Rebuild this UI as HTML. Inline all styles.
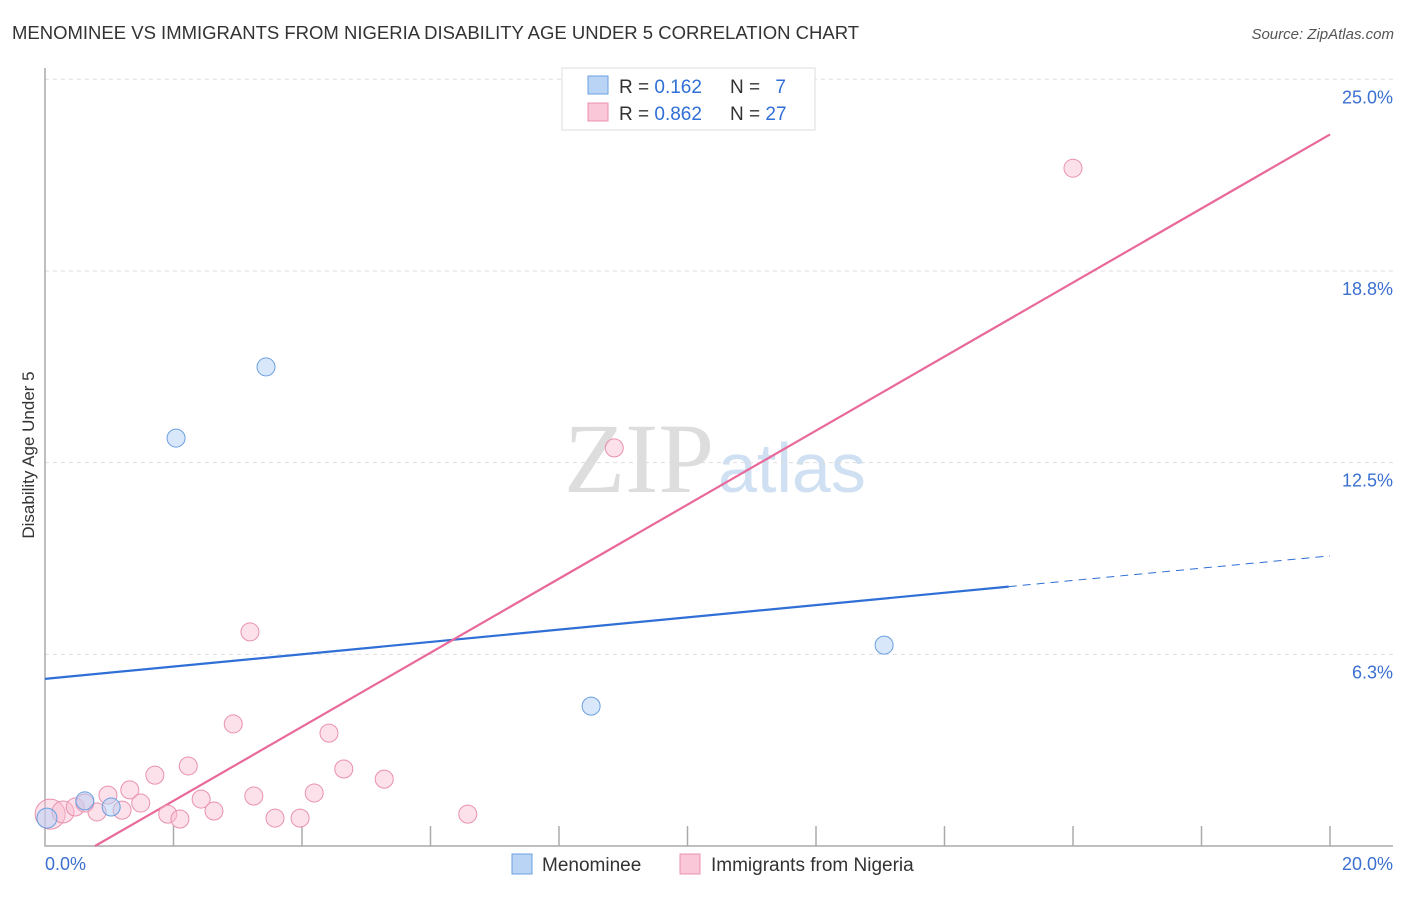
<!DOCTYPE html>
<html><head><meta charset="utf-8"><style>
body{margin:0;background:#fff;font-family:"Liberation Sans",sans-serif;}
</style></head><body>
<svg id="c" width="1406" height="892" font-family="Liberation Sans, sans-serif">
<text x="12" y="39" font-size="18.5" fill="#333">MENOMINEE VS IMMIGRANTS FROM NIGERIA DISABILITY AGE UNDER 5 CORRELATION CHART</text>
<text x="1394" y="39" font-size="15" fill="#555" font-style="italic" text-anchor="end">Source: ZipAtlas.com</text>
<text transform="translate(34,455) rotate(-90)" font-size="17" fill="#333" text-anchor="middle">Disability Age Under 5</text>
<text x="714" y="492" font-size="100" fill="#ddd" style="font-family:'Liberation Serif',serif" text-anchor="end">ZIP</text>
<text x="718" y="492" font-size="70" fill="#cfe0f3" style="font-family:'Liberation Sans',sans-serif">atlas</text>
<g id="grid"></g><g id="axes"></g><g id="lines"></g><g id="pts"></g>
<g>
<rect x="562" y="68" width="253" height="62" fill="#fff" stroke="#ddd"/>
<rect x="588" y="76" width="20" height="18" fill="#b9d4f5" stroke="#6a9fe0"/>
<text x="619" y="93" font-size="19" fill="#333">R = <tspan fill="#2f6fd6">0.162</tspan></text>
<text x="730" y="93" font-size="19" fill="#333">N = <tspan fill="#2f6fd6" dx="10">7</tspan></text>
<rect x="588" y="103" width="20" height="18" fill="#f9c7d7" stroke="#e991ae"/>
<text x="619" y="120" font-size="19" fill="#333">R = <tspan fill="#2f6fd6">0.862</tspan></text>
<text x="730" y="120" font-size="19" fill="#333">N = <tspan fill="#2f6fd6">27</tspan></text>
</g>
<g>
<rect x="512" y="854" width="20" height="20" fill="#b9d4f5" stroke="#6a9fe0"/>
<text x="542" y="871" font-size="19" fill="#333">Menominee</text>
<rect x="680" y="854" width="20" height="20" fill="#f9c7d7" stroke="#e991ae"/>
<text x="711" y="871" font-size="19" fill="#333">Immigrants from Nigeria</text>
</g>
</svg>
<script>
const yTicks=[6.25,12.5,18.75,25];
const yTickLabels=["6.3%","12.5%","18.8%","25.0%"];
const xTickLabels=["0.0%","20.0%"];
const pinkX=[0.08,0.28,0.47,0.81,0.98,1.20,1.32,1.49,1.71,1.91,2.10,2.23,2.43,2.63,2.93,3.19,3.25,3.58,3.97,4.19,4.42,4.65,5.28,6.58,8.86,16.0,0.62];
const pinkY=[1.04,1.11,1.27,1.11,1.66,1.17,1.83,1.40,2.31,1.04,0.88,2.61,1.53,1.14,3.98,6.98,1.63,0.91,0.91,1.73,3.68,2.51,2.18,1.04,12.98,22.1,1.40];
const blueX=[0.03,0.62,1.03,2.04,3.44,8.50,13.06];
const blueY=[0.91,1.47,1.27,13.30,15.62,4.56,6.55];
const blueFit=[5.45,9.46];
const pinkFit=[-0.94,23.2];
const X=v=>45+v*64.25, Y=v=>846-v*30.67;
const NS="http://www.w3.org/2000/svg";
function mk(t,a,p){const e=document.createElementNS(NS,t);for(const k in a)e.setAttribute(k,a[k]);p.appendChild(e);return e;}
const grid=document.getElementById('grid'),axes=document.getElementById('axes'),lines=document.getElementById('lines'),pts=document.getElementById('pts');
yTicks.forEach((v,i)=>{
 const l=mk('line',{x1:45,x2:1393,y1:Y(v),y2:Y(v),stroke:'#ddd','stroke-dasharray':'4,4'},grid);
 
 
 const t=mk('text',{x:1393,y:Y(v)+24,'font-size':18,fill:'#3b70d0','text-anchor':'end'},axes);
 t.textContent=yTickLabels[i];
 
 
});
const ax=mk('path',{d:'M45,68V846H1393',fill:'none',stroke:'#aaa','stroke-width':1.5},axes);


for(let i=1;i<=10;i++){const tk=mk('line',{x1:X(i*2),x2:X(i*2),y1:826,y2:846,stroke:'#aaa','stroke-width':1.5},axes);
 
 }
[[0,'start',45],[1,'end',1393]].forEach(([i,a,x])=>{const t=mk('text',{x:x,y:870,'font-size':18,fill:'#3b70d0','text-anchor':a},axes);t.textContent=xTickLabels[i];
 
 });
const bAt=x=>blueFit[0]+(blueFit[1]-blueFit[0])*x/20;
let e=mk('line',{x1:X(0),y1:Y(bAt(0)),x2:X(15),y2:Y(bAt(15)),stroke:'#2f6fd6','stroke-width':2.2},lines);


e=mk('line',{x1:X(15),y1:Y(bAt(15)),x2:X(20),y2:Y(bAt(20)),stroke:'#2f6fd6','stroke-width':1,'stroke-dasharray':'8,6'},lines);


const pAt=x=>pinkFit[0]+(pinkFit[1]-pinkFit[0])*x/20;
const x0=-pinkFit[0]*20/(pinkFit[1]-pinkFit[0]);
e=mk('line',{x1:X(x0),y1:Y(0),x2:X(20),y2:Y(pAt(20)),stroke:'#e8689a','stroke-width':2.2},lines);


pinkX.forEach((x,i)=>{const c=mk('circle',{cx:X(x),cy:Y(pinkY[i]),r:i==0?15:(i==1?11:9),fill:'rgba(248,187,208,0.45)',stroke:'#e991ae','stroke-width':1},pts);
 
 });
blueX.forEach((x,i)=>{const c=mk('circle',{cx:X(x),cy:Y(blueY[i]),r:i==0?10:9,fill:'rgba(180,208,245,0.5)',stroke:'#6a9fe0','stroke-width':1},pts);
 
 });
</script>
</body></html>
